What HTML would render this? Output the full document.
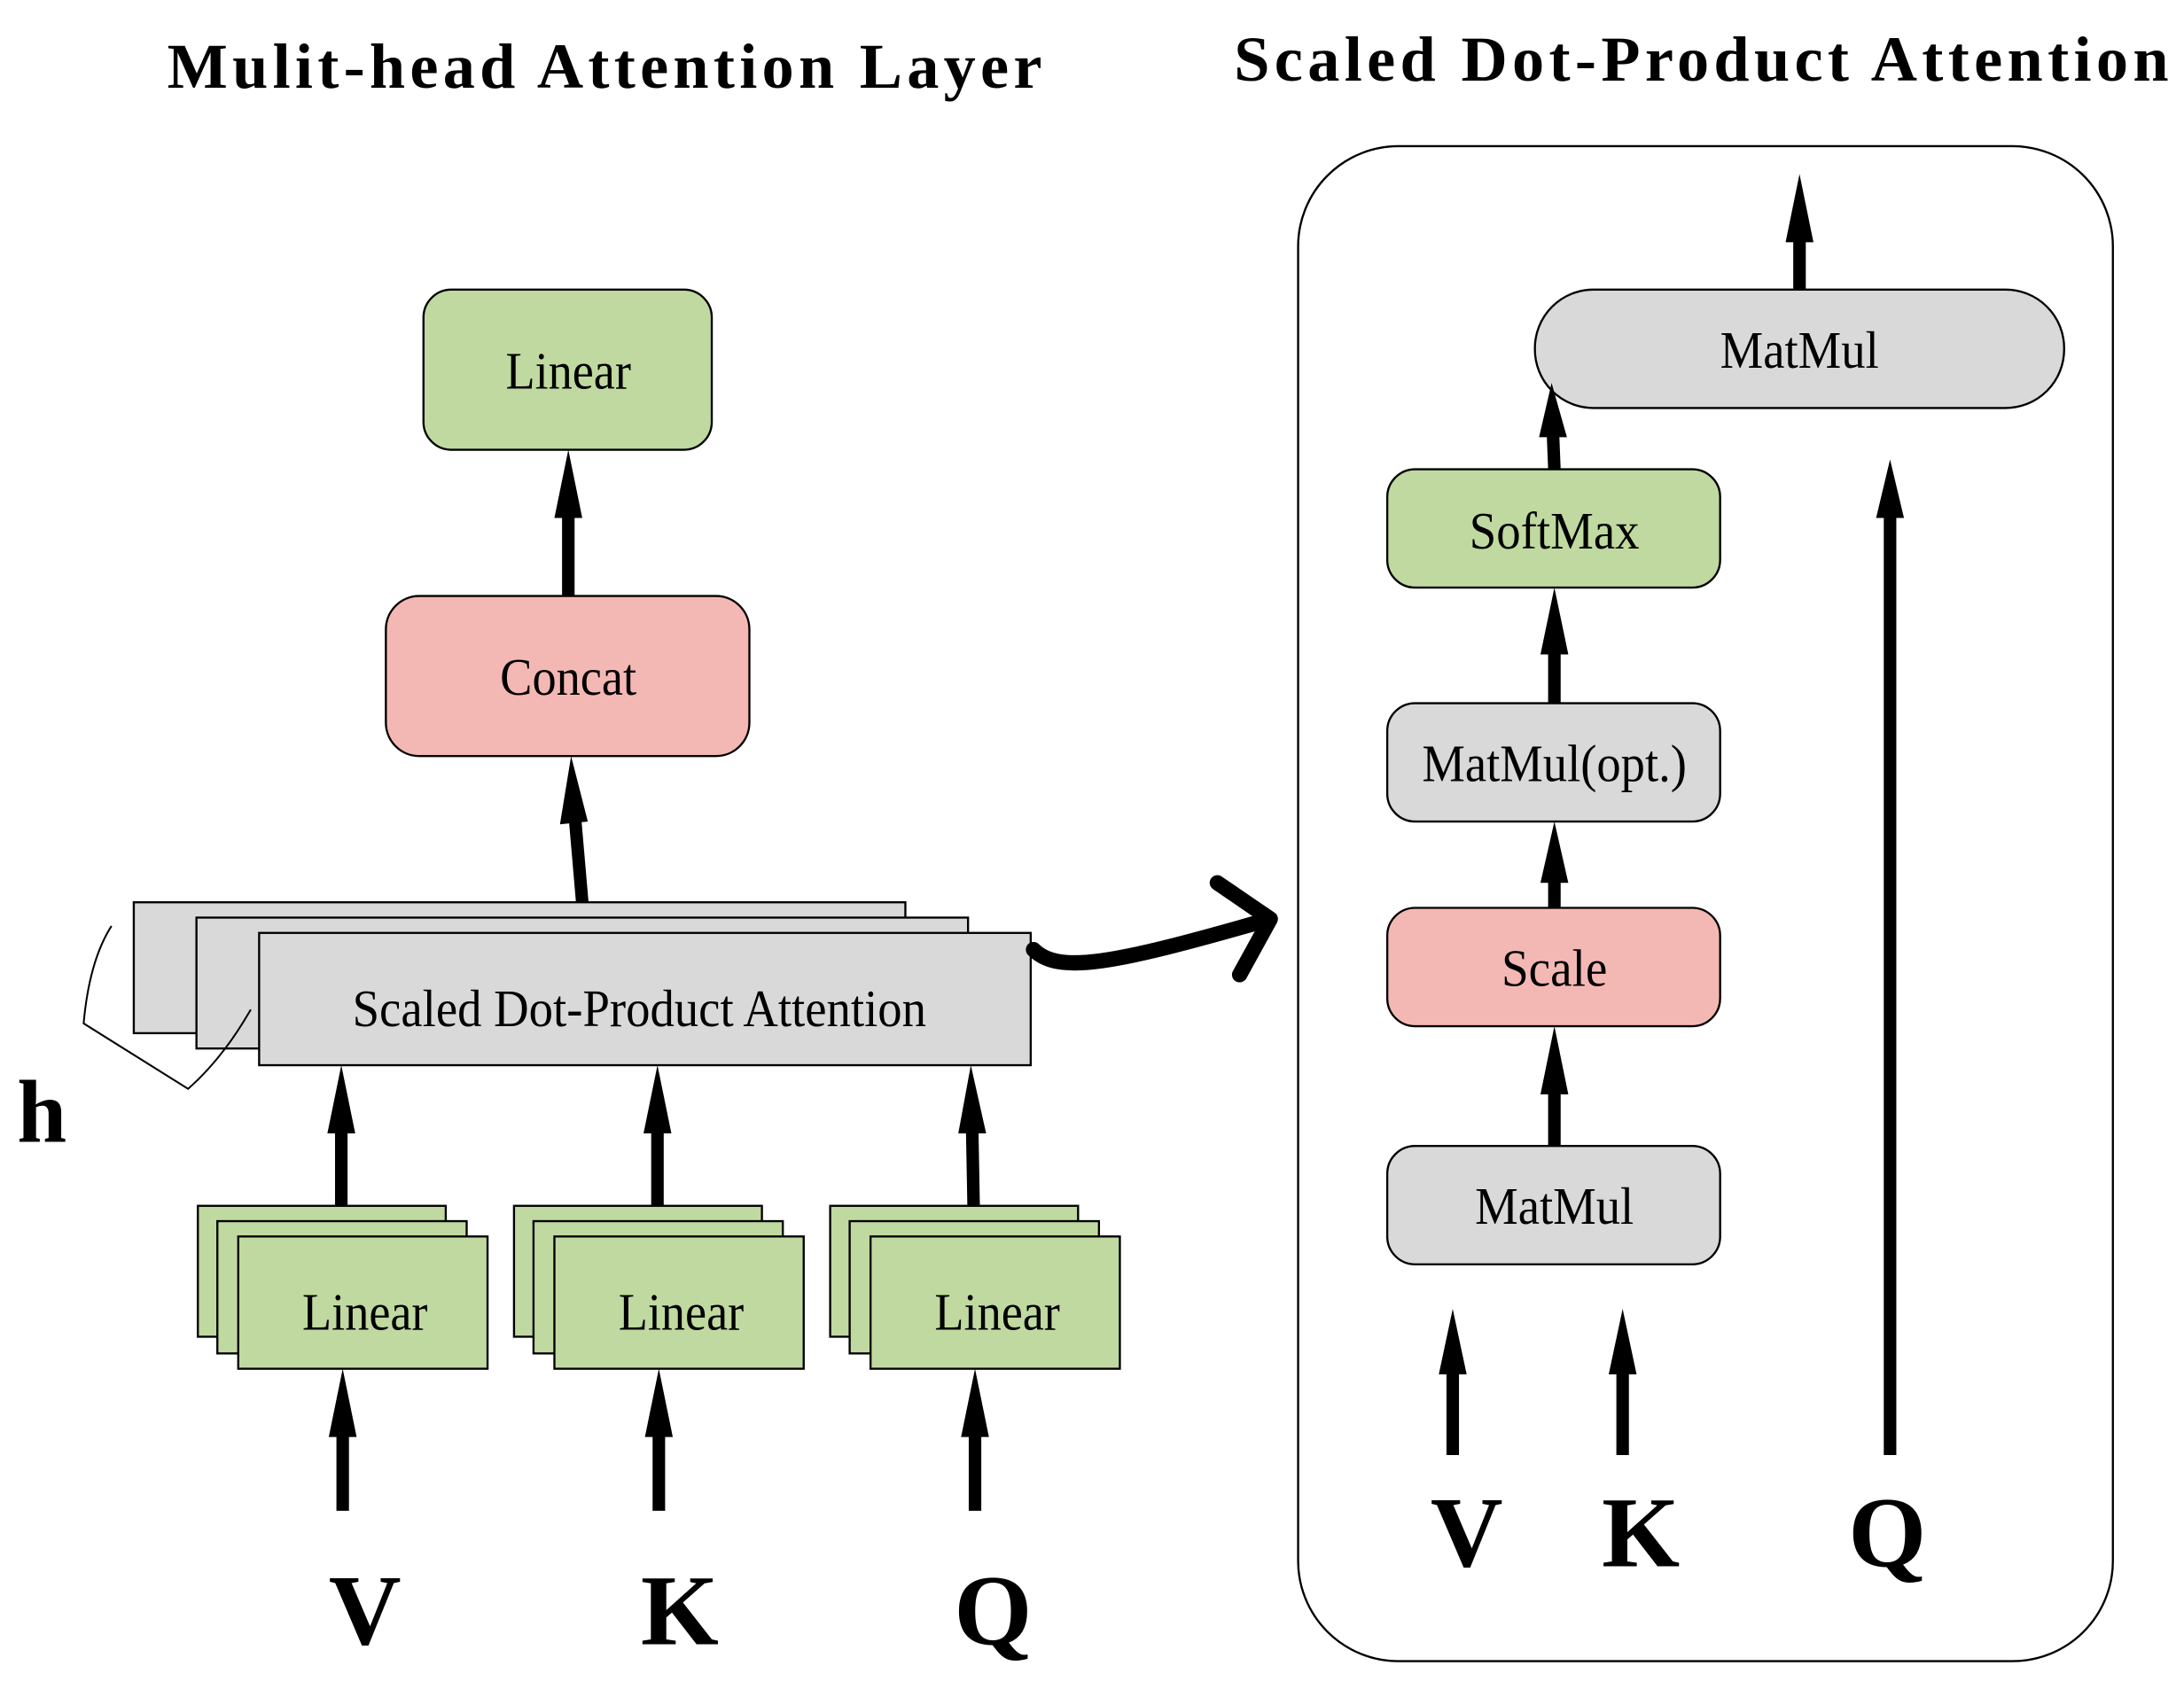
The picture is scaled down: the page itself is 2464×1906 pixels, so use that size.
<!DOCTYPE html>
<html><head><meta charset="utf-8"><style>html,body{margin:0;padding:0;background:#fff}svg{display:block}</style></head>
<body>
<svg width="2464" height="1906" viewBox="0 0 1568 1213" xmlns="http://www.w3.org/2000/svg">
<style>
text{font-family:"Liberation Serif",serif;fill:#000}
.t{font-size:38px}
.b{font-weight:bold}
.box{stroke:#000;stroke-width:1.5}
.g{fill:#c0d9a0}.p{fill:#f4b8b4}.k{fill:#d9d9d9}
.ln{stroke:#000;stroke-width:9;fill:none}
</style>
<!-- titles -->
<text class="b" x="120" y="63" font-size="46" textLength="628" lengthAdjust="spacing">Mulit-head Attention Layer</text>
<text class="b" x="886" y="58" font-size="46" textLength="671" lengthAdjust="spacing">Scaled Dot-Product Attention</text>

<!-- right container -->
<rect x="932" y="105" width="585" height="1088" rx="72" fill="none" stroke="#000" stroke-width="1.5"/>

<!-- left boxes -->
<rect class="box g" x="304" y="208" width="207" height="115" rx="20"/>
<text class="t" x="408" y="279" text-anchor="middle" textLength="90" lengthAdjust="spacingAndGlyphs">Linear</text>
<rect class="box p" x="277" y="428" width="261" height="115" rx="24"/>
<text class="t" x="408" y="499" text-anchor="middle" textLength="98" lengthAdjust="spacingAndGlyphs">Concat</text>

<rect class="box k" x="96" y="648" width="554" height="94" stroke-width="2.5"/>
<rect class="box k" x="141" y="659" width="554" height="94" stroke-width="2.5"/>
<rect class="box k" x="186" y="670" width="554" height="95" stroke-width="2.5"/>
<text class="t" x="459" y="737" text-anchor="middle" font-size="36" textLength="412" lengthAdjust="spacingAndGlyphs">Scaled Dot-Product Attention</text>

<!-- h brace -->
<path d="M80,665 Q64,690 60,735 L135,782 Q160,760 180,725" fill="none" stroke="#000" stroke-width="1.3"/>
<text class="b" x="30" y="820" font-size="64" text-anchor="middle">h</text>

<!-- curved arrow -->
<path d="M742,682 C760,700 800,692 905,662" fill="none" stroke="#000" stroke-width="11" stroke-linecap="round"/>
<path d="M874,634 L912,660 L890,700" fill="none" stroke="#000" stroke-width="11" stroke-linecap="round" stroke-linejoin="round"/>

<!-- linear stacks -->
<g id="ls">
<rect class="box g" x="142" y="866" width="178" height="94"/>
<rect class="box g" x="156" y="877" width="179" height="95"/>
<rect class="box g" x="171" y="888" width="179" height="95"/>
<text class="t" x="262" y="955" text-anchor="middle" textLength="90" lengthAdjust="spacingAndGlyphs">Linear</text>
</g>
<use href="#ls" x="227"/>
<use href="#ls" x="454"/>

<!-- right boxes -->
<rect class="box k" x="1102" y="208" width="380" height="85" rx="42"/>
<text class="t" x="1292" y="264" text-anchor="middle" textLength="114" lengthAdjust="spacingAndGlyphs">MatMul</text>
<rect class="box g" x="996" y="337" width="239" height="85" rx="20"/>
<text class="t" x="1116" y="394" text-anchor="middle" textLength="122" lengthAdjust="spacingAndGlyphs">SoftMax</text>
<rect class="box k" x="996" y="505" width="239" height="85" rx="20"/>
<text class="t" x="1116" y="561" text-anchor="middle" textLength="190" lengthAdjust="spacingAndGlyphs">MatMul(opt.)</text>
<rect class="box p" x="996" y="652" width="239" height="85" rx="20"/>
<text class="t" x="1116" y="708" text-anchor="middle" textLength="76" lengthAdjust="spacingAndGlyphs">Scale</text>
<rect class="box k" x="996" y="823" width="239" height="85" rx="20"/>
<text class="t" x="1116" y="879" text-anchor="middle" textLength="114" lengthAdjust="spacingAndGlyphs">MatMul</text>

<g fill="#000">
<line class="ln" x1="408" y1="428" x2="408" y2="370"/><polygon points="398,372 418,372 408,323"/>
<line class="ln" x1="418" y1="648" x2="413" y2="590"/><polygon points="402,592 422,590 410,543"/>

<line class="ln" x1="245" y1="866" x2="245" y2="812"/><polygon points="235,814 255,814 245,765"/>
<line class="ln" x1="472" y1="866" x2="472" y2="812"/><polygon points="462,814 482,814 472,765"/>
<line class="ln" x1="699" y1="866" x2="698" y2="812"/><polygon points="688,814 708,814 697,765"/>

<line class="ln" x1="246" y1="1085" x2="246" y2="1030"/><polygon points="236,1032 256,1032 246,983"/>
<line class="ln" x1="473" y1="1085" x2="473" y2="1030"/><polygon points="463,1032 483,1032 473,983"/>
<line class="ln" x1="700" y1="1085" x2="700" y2="1030"/><polygon points="690,1032 710,1032 700,983"/>

<line class="ln" x1="1292" y1="208" x2="1292" y2="172"/><polygon points="1282,174 1302,174 1292,125"/>
<line class="ln" x1="1116" y1="337" x2="1115" y2="312"/><polygon points="1105,314 1125,314 1114,275"/>
<line class="ln" x1="1116" y1="505" x2="1116" y2="468"/><polygon points="1106,470 1126,470 1116,422"/>
<line class="ln" x1="1116" y1="652" x2="1116" y2="632"/><polygon points="1106,634 1126,634 1116,590"/>
<line class="ln" x1="1116" y1="823" x2="1116" y2="784"/><polygon points="1106,786 1126,786 1116,737"/>

<line class="ln" x1="1357" y1="1045" x2="1357" y2="370"/><polygon points="1347,372 1367,372 1357,330"/>
<line class="ln" x1="1043" y1="1045" x2="1043" y2="985"/><polygon points="1033,987 1053,987 1043,940"/>
<line class="ln" x1="1165" y1="1045" x2="1165" y2="985"/><polygon points="1155,987 1175,987 1165,940"/>
</g>

<text class="b" x="262" y="1181" font-size="72" text-anchor="middle">V</text>
<text class="b" x="488" y="1181" font-size="72" text-anchor="middle">K</text>
<text class="b" x="713" y="1181" font-size="72" text-anchor="middle">Q</text>
<text class="b" x="1053" y="1125" font-size="72" text-anchor="middle">V</text>
<text class="b" x="1178" y="1125" font-size="72" text-anchor="middle">K</text>
<text class="b" x="1355" y="1125" font-size="72" text-anchor="middle">Q</text>
</svg>
</body></html>
